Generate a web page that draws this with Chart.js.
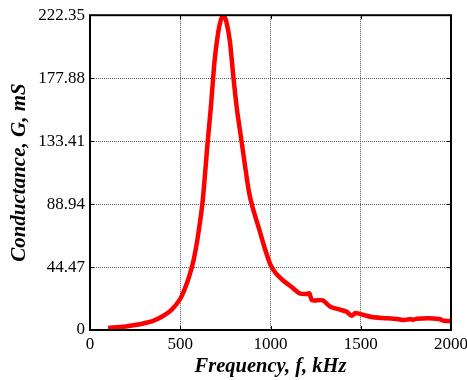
<!DOCTYPE html>
<html>
<head>
<meta charset="utf-8">
<script src="https://cdn.jsdelivr.net/npm/chart.js@4/dist/chart.umd.min.js"></script>
<style>
  html, body { margin: 0; padding: 0; background: #fff; }
  #wrap { width: 467px; height: 380px; }
</style>
</head>
<body>
<div id="wrap"><canvas id="chart-conductance"></canvas></div>
<script>
// frequency (kHz) and conductance (mS)
const freq = [100, 150, 200, 250, 300, 350, 400, 450, 500, 525, 550, 575, 600, 625, 650, 670, 690, 710, 725, 740,
  755, 775, 795, 815, 840, 860, 880, 900, 940, 970, 1000, 1030, 1070, 1120, 1160, 1200, 1215, 1230, 1290, 1330,
  1380, 1420, 1450, 1470, 1520, 1560, 1620, 1700, 1740, 1760, 1775, 1790, 1810, 1900, 1940, 1960, 2000];
const conductance = [1.5, 2, 2.5, 3.5, 4.8, 6.5, 9.5, 14, 22, 29, 38, 50, 68, 92, 130, 158, 190, 210, 219, 222.3,
  218, 204, 178, 155, 133, 115, 98, 87, 70, 57, 46, 40, 35, 30, 26, 25.5, 26, 21, 21, 16.5,
  14.5, 13, 10, 12, 10.5, 9.2, 8.5, 7.8, 7, 7.4, 7.8, 7.2, 8, 8.2, 7.6, 6.5, 6.4];
const xTicks = [0, 500, 1000, 1500, 2000];
const yTicks = [0, 44.47, 88.94, 133.41, 177.88, 222.35];

const serif = 'Liberation Serif, Times New Roman, serif';

// black box around the plot plus small inward ticks on every edge
const frame = {
  id: 'frame',
  afterDraw(chart) {
    const {ctx, chartArea: a, scales} = chart;
    ctx.save();
    ctx.strokeStyle = '#000';
    ctx.lineWidth = 1;
    ctx.beginPath();
    yTicks.forEach(v => {
      const y = Math.round(scales.y.getPixelForValue(v)) + 0.5;
      ctx.moveTo(a.right, y); ctx.lineTo(a.right - 4, y);
      ctx.moveTo(a.left, y); ctx.lineTo(a.left + 4, y);
    });
    xTicks.forEach(v => {
      const x = Math.round(scales.x.getPixelForValue(v)) + 0.5;
      ctx.moveTo(x, a.top); ctx.lineTo(x, a.top + 4);
      ctx.moveTo(x, a.bottom); ctx.lineTo(x, a.bottom - 4);
    });
    ctx.stroke();
    ctx.lineWidth = 2;
    ctx.strokeRect(a.left, a.top, a.right - a.left, a.bottom - a.top);
    ctx.restore();
  }
};

new Chart(document.getElementById('chart-conductance'), {
  type: 'line',
  data: {
    datasets: [{
      data: freq.map((f, i) => ({x: f, y: conductance[i]})),
      borderColor: '#ff0000',
      borderWidth: 4.5,
      pointRadius: 0,
      tension: 0.2,
      fill: false
    }]
  },
  options: {
    responsive: true,
    maintainAspectRatio: false,
    animation: false,
    devicePixelRatio: 1,
    layout: { padding: { top: 12, right: 0, left: 0, bottom: 0 } },
    plugins: { legend: { display: false }, tooltip: { enabled: false } },
    scales: {
      x: {
        type: 'linear',
        min: 0,
        max: 2000,
        afterBuildTicks: s => { s.ticks = xTicks.map(v => ({value: v})); },
        afterFit: s => { s.height = 50; s.paddingLeft = 0; s.paddingRight = 16; },
        grid: { color: '#555', lineWidth: 1, drawTicks: false },
        border: { display: false, dash: [1, 1] },
        ticks: {
          color: '#000',
          padding: 4,
          maxRotation: 0,
          font: { family: serif, size: 17 },
          callback: v => String(v)
        },
        title: {
          display: true,
          text: 'Frequency, f, kHz',
          color: '#000',
          padding: { top: 1, bottom: 1 },
          font: { family: serif, size: 20.5, weight: 'bold', style: 'italic' }
        }
      },
      y: {
        min: 0,
        max: 222.35,
        afterBuildTicks: s => { s.ticks = yTicks.map(v => ({value: v})); },
        afterFit: s => { s.width = 90; },
        grid: { color: '#555', lineWidth: 1, drawTicks: false },
        border: { display: false, dash: [1, 1] },
        ticks: {
          color: '#000',
          padding: 5,
          font: { family: serif, size: 17 },
          callback: v => v === 0 ? '0' : v.toFixed(2)
        },
        title: {
          display: true,
          text: 'Conductance, G, mS',
          color: '#000',
          padding: { top: 7, bottom: 0 },
          font: { family: serif, size: 21, weight: 'bold', style: 'italic' }
        }
      }
    }
  },
  plugins: [frame]
});
</script>
</body>
</html>
